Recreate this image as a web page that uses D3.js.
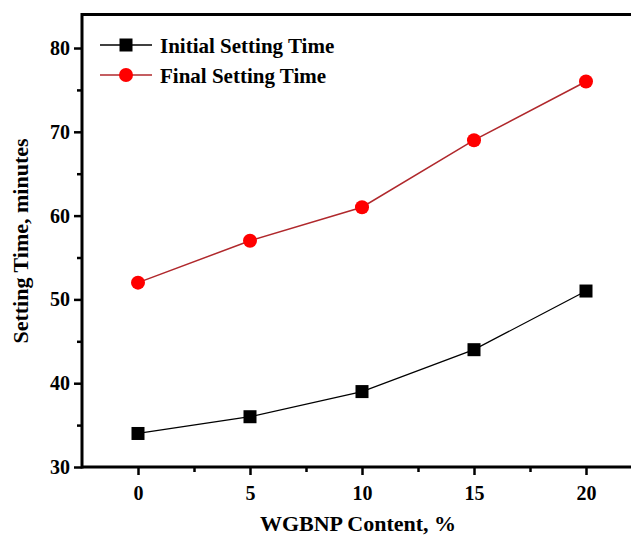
<!DOCTYPE html>
<html><head><meta charset="utf-8">
<script src="https://cdn.jsdelivr.net/npm/d3@7"></script>
<style>body{margin:0;background:#fff}svg{display:block}</style>
</head><body>
<script>
const contents = [0, 5, 10, 15, 20];
const initialTime = [34, 36, 39, 44, 51];
const finalTime = [52, 57, 61, 69, 76];
const xTicks = [0, 5, 10, 15, 20];
const xMinorTicks = [2.5, 7.5, 12.5, 17.5];
const yTicks = [30, 40, 50, 60, 70, 80];
const yMinorTicks = [35, 45, 55, 65, 75];
const seriesNames = ["Initial Setting Time", "Final Setting Time"];

const W = 631, H = 540;
const svg = d3.select("body").append("svg").attr("width", W).attr("height", H);
const font = "'Liberation Serif','Times New Roman',serif";

const x = d3.scaleLinear().domain([-2.5, 22.5]).range([82, 642]);
const y = d3.scaleLinear().domain([30, 84]).range([467, 14.5]);

// top frame
svg.append("line").attr("x1",x(-2.5)).attr("x2",W+5).attr("y1",y(84)).attr("y2",y(84))
  .attr("stroke","#000").attr("stroke-width",3);

// axes
const xAxis = d3.axisBottom(x).tickValues(xTicks).tickSize(8).tickPadding(11).tickFormat(d3.format("d"));
svg.append("g").attr("transform",`translate(0,${y(30)})`).call(xAxis);
svg.append("g").attr("transform",`translate(0,${y(30)})`)
  .call(d3.axisBottom(x).tickValues(xMinorTicks).tickSize(5).tickFormat(""));
const yAxis = d3.axisLeft(y).tickValues(yTicks).tickSize(8).tickPadding(4).tickFormat(d3.format("d"));
svg.append("g").attr("transform",`translate(${x(-2.5)},0)`).call(yAxis);
svg.append("g").attr("transform",`translate(${x(-2.5)},0)`)
  .call(d3.axisLeft(y).tickValues(yMinorTicks).tickSize(5).tickFormat(""));

svg.selectAll(".domain").remove();
svg.selectAll(".tick line").attr("stroke","#000").attr("stroke-width",2.5);
svg.selectAll(".tick text").attr("font-family",font).attr("font-weight","bold").attr("font-size",20).attr("fill","#000");

// axis lines
svg.append("line").attr("x1",x(-2.5)).attr("x2",W+5).attr("y1",y(30)).attr("y2",y(30)).attr("stroke","#000").attr("stroke-width",3);
svg.append("line").attr("x1",x(-2.5)).attr("x2",x(-2.5)).attr("y1",y(84)-1.5).attr("y2",y(30)+1.5).attr("stroke","#000").attr("stroke-width",3);

// lines
const line = d3.line().x((d,i)=>x(contents[i])).y(d=>y(d));
svg.append("path").datum(initialTime).attr("d",line).attr("fill","none").attr("stroke","#000").attr("stroke-width",1.3);
svg.append("path").datum(finalTime).attr("d",line).attr("fill","none").attr("stroke","#b0282c").attr("stroke-width",1.5);

const sq = 13;
svg.selectAll(".sq").data(initialTime).enter().append("rect")
  .attr("x",(d,i)=>x(contents[i])-sq/2).attr("y",d=>y(d)-sq/2).attr("width",sq).attr("height",sq).attr("fill","#000");
svg.selectAll(".ci").data(finalTime).enter().append("circle")
  .attr("cx",(d,i)=>x(contents[i])).attr("cy",d=>y(d)).attr("r",7).attr("fill","#f00");

// legend
const lg = svg.append("g");
const legY = [45, 75];
lg.append("line").attr("x1",100).attr("x2",152).attr("y1",legY[0]).attr("y2",legY[0]).attr("stroke","#000").attr("stroke-width",1.5);
lg.append("rect").attr("x",126-sq/2).attr("y",legY[0]-sq/2).attr("width",sq).attr("height",sq).attr("fill","#000");
lg.append("line").attr("x1",100).attr("x2",152).attr("y1",legY[1]).attr("y2",legY[1]).attr("stroke","#b0282c").attr("stroke-width",1.5);
lg.append("circle").attr("cx",126).attr("cy",legY[1]).attr("r",7).attr("fill","#f00");
seriesNames.forEach((n,i)=>{
  lg.append("text").attr("x",160).attr("y",legY[i]+8).text(n)
    .attr("font-family",font).attr("font-weight","bold").attr("font-size",21).attr("fill","#000");
});

// axis titles
svg.append("text").attr("x",358).attr("y",531).attr("text-anchor","middle").text("WGBNP Content, %")
  .attr("font-family",font).attr("font-weight","bold").attr("font-size",22).attr("fill","#000");
svg.append("text").attr("transform",`translate(28,${241}) rotate(-90)`).attr("text-anchor","middle").text("Setting Time, minutes")
  .attr("font-family",font).attr("font-weight","bold").attr("font-size",22).attr("fill","#000");
</script>
</body></html>
